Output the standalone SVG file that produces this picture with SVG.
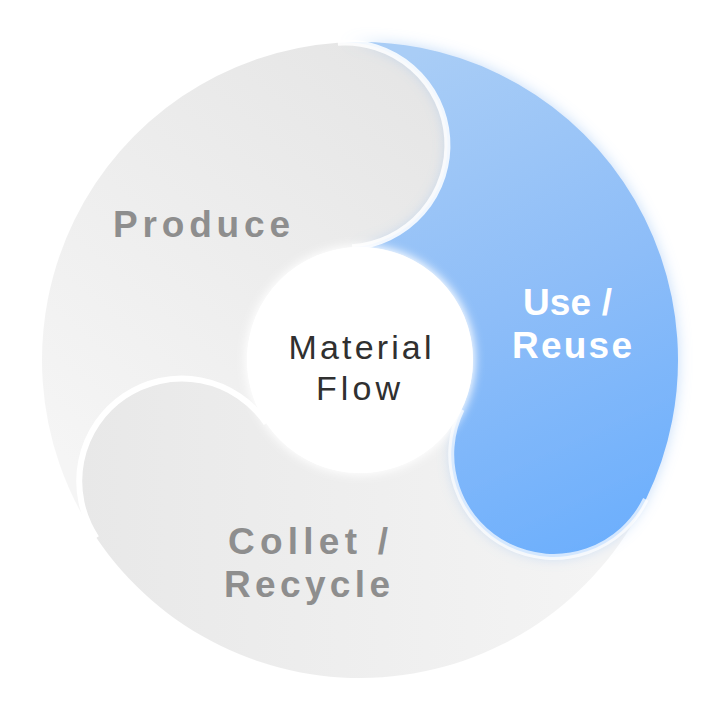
<svg xmlns="http://www.w3.org/2000/svg" width="720" height="720" viewBox="0 0 720 720">
  <defs>
    <linearGradient id="gProduce" gradientUnits="userSpaceOnUse" x1="430" y1="60" x2="80" y2="470">
      <stop offset="0" stop-color="#e5e5e5"/>
      <stop offset="1" stop-color="#f5f5f5"/>
    </linearGradient>
    <linearGradient id="gRecycle" gradientUnits="userSpaceOnUse" x1="80" y1="500" x2="600" y2="500">
      <stop offset="0" stop-color="#e8e8e8"/>
      <stop offset="1" stop-color="#f4f4f4"/>
    </linearGradient>
    <linearGradient id="gUse" gradientUnits="userSpaceOnUse" x1="400" y1="60" x2="630" y2="560">
      <stop offset="0" stop-color="#a9cdf6"/>
      <stop offset="0.5" stop-color="#8dbdf8"/>
      <stop offset="1" stop-color="#6aaefd"/>
    </linearGradient>
    <filter id="glow" x="-20%" y="-20%" width="140%" height="140%">
      <feGaussianBlur in="SourceAlpha" stdDeviation="7" result="b"/>
      <feFlood flood-color="#7fb3f2" flood-opacity="0.45"/>
      <feComposite in2="b" operator="in" result="g"/>
      <feMerge>
        <feMergeNode in="g"/>
        <feMergeNode in="SourceGraphic"/>
      </feMerge>
    </filter>
    <filter id="soft" x="-20%" y="-20%" width="140%" height="140%">
      <feGaussianBlur stdDeviation="5"/>
    </filter>
    <style>
      .border { fill: none; stroke: #ffffff; stroke-width: 6; stroke-linecap: butt; }
      .lbl { font-family: "Liberation Sans", Arial, sans-serif; font-weight: 700; font-size: 37px; text-anchor: middle; }
      .grey { fill: #8e8e8e; }
      .white { fill: #ffffff; }
      .center { font-family: "Liberation Sans", Arial, sans-serif; font-weight: 400; font-size: 34px; fill: #303030; text-anchor: middle; }
    </style>
  </defs>

  <g id="node-produce">
    <path d="M96.37,537.82 A318,318 0 0 1 337.82,42.77 A102.5,102.5 0 0 1 352.12,247.28 A113,113 0 0 0 266.32,423.19 A102.5,102.5 0 0 0 96.37,537.82 Z" fill="url(#gProduce)"/>
  </g>
  <g id="node-recycle">
    <path d="M645.82,499.40 A318,318 0 0 1 96.37,537.82 A102.5,102.5 0 0 1 266.32,423.19 A113,113 0 0 0 461.56,409.54 A102.5,102.5 0 0 0 645.82,499.40 Z" fill="url(#gRecycle)"/>
  </g>
  <g id="node-use">
    <path d="M337.82,42.77 A318,318 0 0 1 645.82,499.40 A102.5,102.5 0 0 1 461.56,409.54 A113,113 0 0 0 352.12,247.28 A102.5,102.5 0 0 0 337.82,42.77 Z" fill="url(#gUse)" filter="url(#glow)"/>
  </g>

  <g id="connectors">
    <path class="border" d="M337.82,42.77 A102.5,102.5 0 0 1 352.12,247.28" opacity="0.85"/>
    <path class="border" d="M645.82,499.40 A102.5,102.5 0 0 1 461.56,409.54" opacity="0.7"/>
    <path class="border" d="M96.37,537.82 A102.5,102.5 0 0 1 266.32,423.19"/>
  </g>

  <g id="node-center">
    <circle cx="360" cy="360" r="115" fill="#ffffff" filter="url(#soft)"/>
    <circle cx="360" cy="360" r="113" fill="#ffffff"/>
    <text class="center" x="360" y="359" textLength="143" lengthAdjust="spacing">Material</text>
    <text class="center" x="358" y="400" textLength="84" lengthAdjust="spacing">Flow</text>
  </g>

  <g id="labels">
    <text class="lbl grey" x="201.5" y="237" textLength="177" lengthAdjust="spacing">Produce</text>
    <text class="lbl white" x="567.5" y="315" textLength="89" lengthAdjust="spacing">Use /</text>
    <text class="lbl white" x="572" y="358" textLength="120" lengthAdjust="spacing">Reuse</text>
    <text class="lbl grey" x="308" y="554" textLength="160" lengthAdjust="spacing">Collet /</text>
    <text class="lbl grey" x="307" y="597" textLength="166" lengthAdjust="spacing">Recycle</text>
  </g>
</svg>
